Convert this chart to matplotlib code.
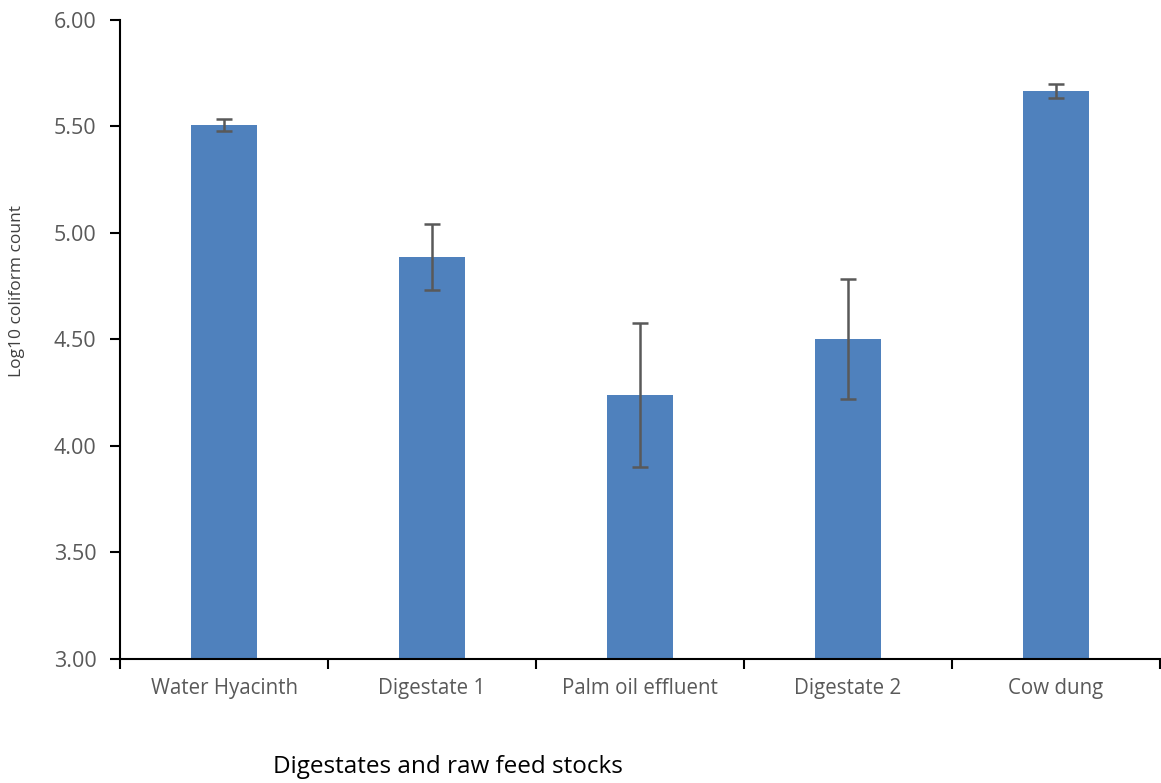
import matplotlib
matplotlib.use("Agg")
import matplotlib.pyplot as plt
import numpy as np

categories = ["Water Hyacinth", "Digestate 1", "Palm oil effluent", "Digestate 2", "Cow dung"]
log_counts = [5.507, 4.887, 4.239, 4.502, 5.667]
errors = [0.030, 0.157, 0.338, 0.280, 0.033]
yticks = [3.00, 3.50, 4.00, 4.50, 5.00, 5.50, 6.00]

plt.rcParams["font.family"] = ["Open Sans", "DejaVu Sans"]
grey = "#595959"

fig = plt.figure(figsize=(11.61, 7.83), dpi=100)
ax = fig.add_axes([0.1034, 0.1584, 0.8956, 0.8161])

x = np.arange(len(categories))
ax.bar(x, log_counts, width=0.32, color="#4f81bd", zorder=2)
ax.errorbar(x, log_counts, yerr=errors, fmt="none", ecolor=grey,
            elinewidth=1.8, capsize=6, capthick=1.8, zorder=3)

ax.set_xlim(-0.5, len(categories) - 0.5)
ax.set_ylim(3.0, 6.0)
ax.set_yticks(yticks)
ax.set_yticklabels([f"{v:.2f}" for v in yticks])

# category boundaries carry the major ticks, names sit in between
ax.set_xticks(np.arange(len(categories) + 1) - 0.5)
ax.set_xticklabels([])
ax.set_xticks(x, minor=True)
ax.set_xticklabels(categories, minor=True)
ax.tick_params(axis="x", which="minor", length=0, pad=14, labelsize=14.8, labelcolor=grey)
ax.tick_params(axis="x", which="major", length=7, width=1.5, color="black")
ax.tick_params(axis="y", length=7, width=1.5, color="black", pad=10,
               labelsize=15.5, labelcolor=grey)

for side in ("top", "right"):
    ax.spines[side].set_visible(False)
for side in ("left", "bottom"):
    ax.spines[side].set_linewidth(1.5)
    ax.spines[side].set_color("black")

fig.text(17 / 1161, 1 - 291 / 783, "Log10 coliform count", fontsize=12.5,
         color="#404040", rotation=90, ha="center", va="center")
fig.text(0.386, 0.02, "Digestates and raw feed stocks", fontsize=17.5,
         color="black", ha="center", va="center")

fig.savefig("out.png", dpi=100)
